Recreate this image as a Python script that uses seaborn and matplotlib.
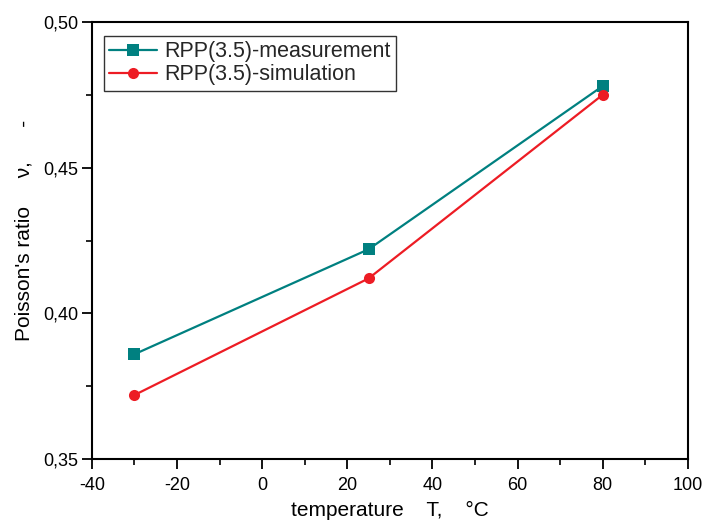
import matplotlib
matplotlib.use("Agg")
import matplotlib.pyplot as plt
from matplotlib.ticker import MultipleLocator, FuncFormatter
import seaborn as sns
import pandas as pd

temperature = [-30, 25, 80]
measurement = [0.386, 0.422, 0.478]
simulation = [0.372, 0.412, 0.475]
series_names = ["RPP(3.5)-measurement", "RPP(3.5)-simulation"]

sns.set_theme(style="white")
plt.rcParams["font.family"] = ["Liberation Sans", "DejaVu Sans"]

df = pd.DataFrame({
    "T": temperature * 2,
    "nu": measurement + simulation,
    "series": [series_names[0]] * 3 + [series_names[1]] * 3,
})

fig = plt.figure(figsize=(7.07, 5.2), dpi=100)
ax = fig.add_axes([0.130, 0.117, 0.843, 0.841])

palette = {series_names[0]: "#008080", series_names[1]: "#ed1c24"}
sns.lineplot(data=df, x="T", y="nu", hue="series", style="series",
             markers={series_names[0]: "s", series_names[1]: "o"},
             dashes=False, palette=palette, markersize=8, linewidth=1.6,
             markeredgewidth=0, ax=ax)

ax.set_xlim(-40, 100)
ax.set_ylim(0.35, 0.50)
ax.xaxis.set_major_locator(MultipleLocator(20))
ax.xaxis.set_minor_locator(MultipleLocator(10))
ax.yaxis.set_major_locator(MultipleLocator(0.05))
ax.yaxis.set_minor_locator(MultipleLocator(0.025))
ax.yaxis.set_major_formatter(FuncFormatter(lambda v, p: f"{v:.2f}".replace(".", ",")))
ax.xaxis.set_major_formatter(FuncFormatter(lambda v, p: f"{v:g}"))

ax.tick_params(which="major", direction="out", length=7, width=1.3,
               labelsize=13, color="black", labelcolor="black",
               bottom=True, left=True, top=False, right=False)
ax.tick_params(which="minor", direction="out", length=4, width=1.2,
               color="black", bottom=True, left=True, top=False, right=False)
ax.tick_params(axis="x", which="major", pad=6)
ax.tick_params(axis="y", which="major", pad=3)
for sp in ax.spines.values():
    sp.set_color("black")
    sp.set_linewidth(1.5)

ax.set_xlabel("temperature    T,    \u00b0C", fontsize=15, color="black", labelpad=5)
ax.set_ylabel("Poisson's ratio     \u03bd,      -", fontsize=15, color="black")
ax.yaxis.set_label_coords(-0.098, 0.522)

leg = ax.legend(loc="upper left", bbox_to_anchor=(0.020, 0.968), fontsize=15.5,
                frameon=True, fancybox=False, edgecolor="black",
                handlelength=2.2, borderpad=0.25, labelspacing=0.1,
                handletextpad=0.35, borderaxespad=0)
leg.get_frame().set_linewidth(1.0)
leg.set_title(None)

fig.savefig("out.png", dpi=100)
